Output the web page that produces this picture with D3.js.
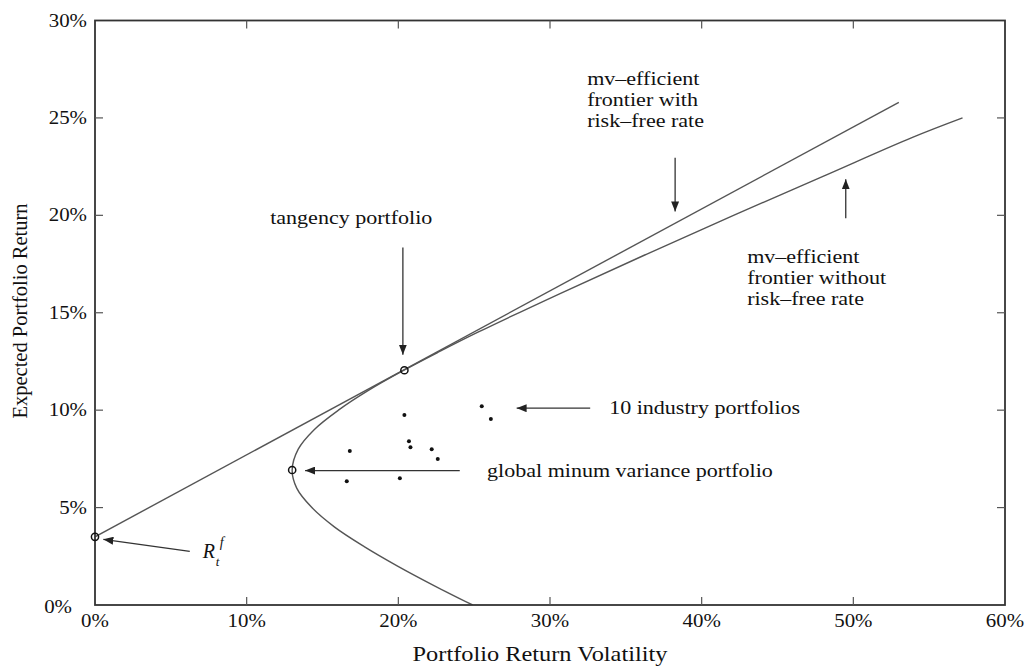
<!DOCTYPE html>
<html>
<head>
<meta charset="utf-8">
<script src="https://cdn.jsdelivr.net/npm/d3@7"></script>
<style>
  html, body { margin: 0; padding: 0; background: #fff; }
  svg { display: block; }
  text { font-family: "Liberation Serif", "Times New Roman", serif; fill: #111; }
</style>
</head>
<body>
<svg id="chart" width="1027" height="666"></svg>
<script>
// Axis ticks (in percent)
const xTicks = [0, 10, 20, 30, 40, 50, 60];
const yTicks = [0, 5, 10, 15, 20, 25, 30];

// Mean-variance frontier without a risk-free asset: [volatility %, expected return %]
const frontier = [
  [24.9, 0], [22.35, 1], [19.95, 2], [17.75, 3], [15.8, 4], [14.3, 5], [13.3, 6],
  [13.0, 6.93], [13.4, 8], [14.45, 9], [16.05, 10], [18.0, 11], [20.25, 12],
  [22.7, 13], [25.25, 14], [30.7, 16], [36.35, 18], [42.1, 20], [48.0, 22],
  [53.9, 24], [57.2, 25]
];

// Capital market line (frontier with risk-free rate)
const cml = [[0, 3.5], [53.0, 25.8]];

// Special portfolios
const riskFree = [0, 3.5];
const tangency = [20.4, 12.05];
const minVariance = [13.0, 6.93];

// Ten industry portfolios
const industryVol = [20.4, 25.5, 26.1, 16.8, 20.7, 20.8, 22.2, 22.6, 16.6, 20.1];
const industryRet = [9.75, 10.2, 9.55, 7.9, 8.4, 8.1, 8.0, 7.5, 6.35, 6.5];

// Annotation arrows: [from, to] in data units
const arrows = [
  [[20.3, 18.35], [20.3, 12.85]],
  [[38.25, 22.95], [38.25, 20.2]],
  [[49.5, 19.85], [49.5, 21.85]],
  [[32.65, 10.1], [27.8, 10.1]],
  [[24.05, 6.9], [13.85, 6.9]],
  [[6.25, 2.75], [0.55, 3.37]]
];

// Annotation text: lines, anchor (left, first baseline) in data units
const notes = [
  { lines: ["tangency portfolio"], at: [11.55, 19.55] },
  { lines: ["mv\u2013efficient", "frontier with", "risk\u2013free rate"], at: [32.45, 26.7] },
  { lines: ["mv\u2013efficient", "frontier without", "risk\u2013free rate"], at: [43.0, 17.55] },
  { lines: ["10 industry portfolios"], at: [33.9, 9.8] },
  { lines: ["global minum variance portfolio"], at: [25.85, 6.57] }
];

const svg = d3.select("#chart");
const plotL = 95, plotR = 1005, plotT = 20.5, plotB = 605;
const x = d3.scaleLinear().domain([0, 60]).range([plotL, plotR]);
const y = d3.scaleLinear().domain([0, 30]).range([plotB, plotT]);
const lineGap = 21; // px between annotation lines
const widen = 1.16; // horizontal glyph stretch

function stretch(sel) {
  sel.each(function () {
    const w = this.getComputedTextLength();
    d3.select(this).attr("textLength", w * widen).attr("lengthAdjust", "spacingAndGlyphs");
  });
}

const defs = svg.append("defs");
defs.append("marker")
  .attr("id", "head")
  .attr("viewBox", "0 0 10 8")
  .attr("refX", 10).attr("refY", 4)
  .attr("markerWidth", 10).attr("markerHeight", 8)
  .attr("markerUnits", "userSpaceOnUse")
  .attr("orient", "auto")
  .append("path").attr("d", "M0,0 L10,4 L0,8 Z").attr("fill", "#222");

// Clip curves to the plot box
defs.append("clipPath").attr("id", "plotClip")
  .append("rect").attr("x", plotL).attr("y", plotT).attr("width", plotR - plotL).attr("height", plotB - plotT);

const plot = svg.append("g").attr("clip-path", "url(#plotClip)");

plot.append("path")
  .datum(frontier)
  .attr("d", d3.line().x(d => x(d[0])).y(d => y(d[1])).curve(d3.curveCatmullRom.alpha(0.5)))
  .attr("fill", "none").attr("stroke", "#555").attr("stroke-width", 1.4);

plot.append("path")
  .datum(cml)
  .attr("d", d3.line().x(d => x(d[0])).y(d => y(d[1])))
  .attr("fill", "none").attr("stroke", "#555").attr("stroke-width", 1.4);

// Industry portfolios
svg.append("g").selectAll("circle")
  .data(d3.range(industryVol.length))
  .join("circle")
  .attr("cx", i => x(industryVol[i]))
  .attr("cy", i => y(industryRet[i]))
  .attr("r", 2)
  .attr("fill", "#111");

// Frame with inward ticks on all sides
const frame = svg.append("g");
frame.append("rect")
  .attr("x", plotL).attr("y", plotT).attr("width", plotR - plotL).attr("height", plotB - plotT)
  .attr("fill", "none").attr("stroke", "#333").attr("stroke-width", 1.8);

const tk = 8;
const tickG = frame.append("g").attr("stroke", "#555").attr("stroke-width", 1.2);
xTicks.slice(1, -1).forEach(d => {
  tickG.append("line").attr("x1", x(d)).attr("x2", x(d)).attr("y1", plotB).attr("y2", plotB - tk);
  tickG.append("line").attr("x1", x(d)).attr("x2", x(d)).attr("y1", plotT).attr("y2", plotT + tk);
});
yTicks.slice(1, -1).forEach(d => {
  tickG.append("line").attr("x1", plotL).attr("x2", plotL + tk).attr("y1", y(d)).attr("y2", y(d));
  tickG.append("line").attr("x1", plotR).attr("x2", plotR - tk).attr("y1", y(d)).attr("y2", y(d));
});

// Tick labels
const fmt = d => d + "%";
svg.append("g").selectAll("text").data(xTicks).join("text")
  .attr("x", d => x(d)).attr("y", plotB + 22)
  .attr("text-anchor", "middle").attr("font-size", 18)
  .text(fmt).call(stretch);
svg.append("g").selectAll("text").data(yTicks).join("text")
  .attr("x", d => d === 0 ? plotL - 23 : plotL - 8)
  .attr("y", d => y(d) + (d === 0 ? 8 : 6))
  .attr("text-anchor", "end").attr("font-size", 18)
  .text(fmt).call(stretch);

// Axis titles
svg.append("text")
  .attr("x", (plotL + plotR) / 2 - 10).attr("y", 661)
  .attr("text-anchor", "middle").attr("font-size", 21)
  .text("Portfolio Return Volatility").call(stretch);
svg.append("text")
  .attr("transform", "translate(27,311) rotate(-90)")
  .attr("text-anchor", "middle").attr("font-size", 20.5)
  .text("Expected Portfolio Return");

// Arrows
svg.append("g").selectAll("line").data(arrows).join("line")
  .attr("x1", d => x(d[0][0])).attr("y1", d => y(d[0][1]))
  .attr("x2", d => x(d[1][0])).attr("y2", d => y(d[1][1]))
  .attr("stroke", "#333").attr("stroke-width", 1.3)
  .attr("marker-end", "url(#head)");

// Highlighted portfolios
svg.append("g").selectAll("circle").data([riskFree, tangency, minVariance]).join("circle")
  .attr("cx", d => x(d[0])).attr("cy", d => y(d[1]))
  .attr("r", 3.6)
  .attr("fill", "none").attr("stroke", "#111").attr("stroke-width", 1.5);

// Annotation text
notes.forEach(n => {
  n.lines.forEach((t, i) => {
    svg.append("text")
      .attr("x", x(n.at[0])).attr("y", y(n.at[1]) + i * lineGap)
      .attr("font-size", 19)
      .text(t).call(stretch);
  });
});

// Risk-free rate label R_t^f
const rx = x(7.1), ry = y(2.41);
svg.append("text").attr("x", rx).attr("y", ry)
  .attr("font-size", 20).attr("font-style", "italic").text("R");
svg.append("text").attr("x", rx + 13).attr("y", ry + 8)
  .attr("font-size", 13).attr("font-style", "italic").text("t");
svg.append("text").attr("x", rx + 17).attr("y", ry - 11)
  .attr("font-size", 14).attr("font-style", "italic").text("f");
</script>
</body>
</html>
